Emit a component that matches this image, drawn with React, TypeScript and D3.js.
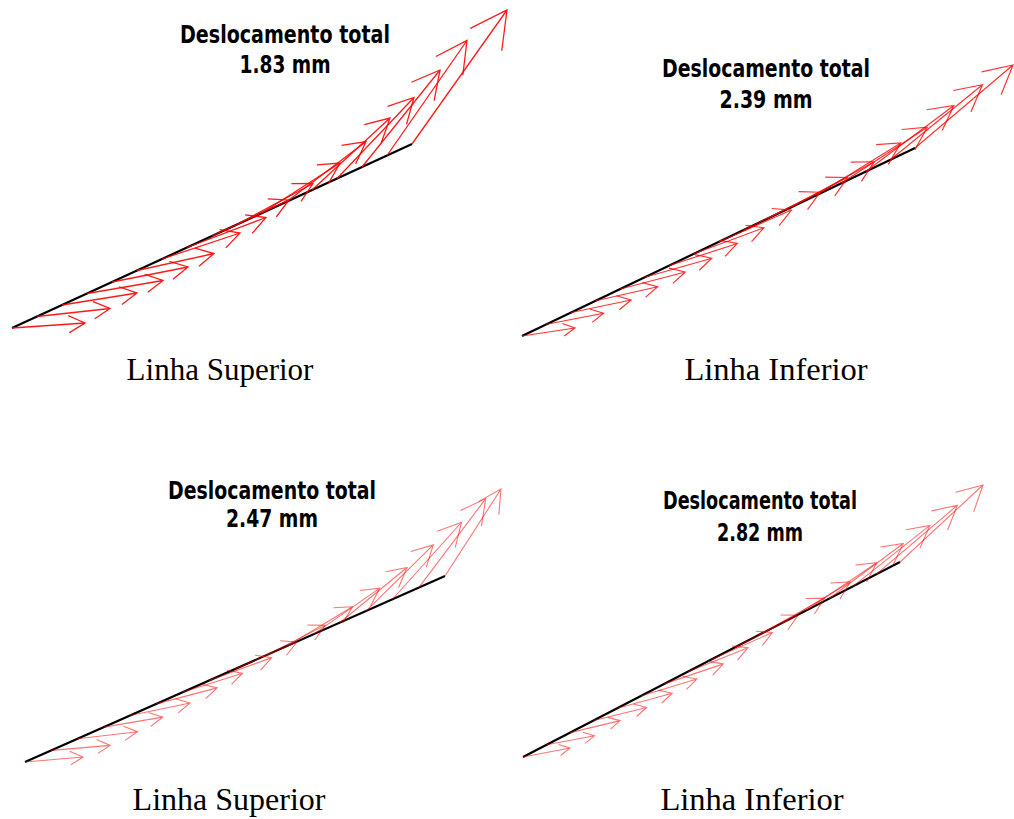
import React from "react";
import * as d3 from "d3";

// Panel titles / captions
const titles = ["Deslocamento total", "Deslocamento total", "Deslocamento total", "Deslocamento total"];
const totals = ["1.83 mm", "2.39 mm", "2.47 mm", "2.82 mm"];
const captions = ["Linha Superior", "Linha Inferior", "Linha Superior", "Linha Inferior"];

// Undeformed line (model units, y up): [x0, y0, x1, y1]
const line1 = [12, 12, 412, 196];
const line2 = [12, 4, 405, 192];
const line3 = [25, 8, 445, 194];
const line4 = [13, 13, 390, 208];

// Nodal displacement vectors (model units, y up), 17 nodes along each line
const disp1X = [73, 73, 75, 76, 76, 77, 78, 79, 77, 76, 78, 79, 78, 77, 78, 80, 95];
const disp1Y = [5, 8, 12, 13, 15, 17, 26, 30, 36, 41, 50, 60, 72, 81, 97, 115, 134];
const disp2X = [53, 57, 60, 62, 65, 67, 68, 70, 73, 77, 80, 82, 84, 86, 88, 92, 98];
const disp2Y = [8, 11, 12.5, 14, 17, 19, 22, 26, 32, 38, 41, 45, 52, 56, 66, 75, 83];
const disp3X = [58, 59, 60, 59, 60, 61, 60, 63, 62, 64, 65, 66, 67, 67, 69, 67, 56];
const disp3Y = [5, 5, 7, 10, 12.5, 16, 19, 23, 27, 32, 39, 46, 55, 66, 77, 89, 87];
const disp4X = [47, 48, 50, 53, 55, 56, 59, 60, 61, 63, 66, 68, 71, 74, 77, 81, 83];
const disp4Y = [9, 9, 12, 13, 15, 17, 20, 24, 27, 32, 37, 41, 48, 55, 61, 69, 77];

const W = 1014;
const H = 819;

type PanelDef = {
  ox: number; oy: number; line: number[]; dx: number[]; dy: number[];
  title: string; total: string; caption: string;
  tx: number; ty1: number; ty2: number; tw1: number; tw2: number;
  cx: number; cy: number; cs: number; op: number; sw: number;
};

const panels: PanelDef[] = [
  { ox: 0, oy: 0, line: line1, dx: disp1X, dy: disp1Y, title: titles[0], total: totals[0], caption: captions[0],
    tx: 285, ty1: 43, ty2: 73, tw1: 210, tw2: 91, cx: 220, cy: 380, cs: 31, op: 0.9, sw: 1.3 },
  { ox: 510, oy: 0, line: line2, dx: disp2X, dy: disp2Y, title: titles[1], total: totals[1], caption: captions[1],
    tx: 766, ty1: 77, ty2: 108, tw1: 208, tw2: 93, cx: 776, cy: 380, cs: 32.5, op: 0.8, sw: 1.2 },
  { ox: 0, oy: 430, line: line3, dx: disp3X, dy: disp3Y, title: titles[2], total: totals[2], caption: captions[2],
    tx: 272, ty1: 499, ty2: 527, tw1: 208, tw2: 92, cx: 229, cy: 810, cs: 32, op: 0.55, sw: 1.1 },
  { ox: 510, oy: 430, line: line4, dx: disp4X, dy: disp4Y, title: titles[3], total: totals[3], caption: captions[3],
    tx: 760, ty1: 509, ty2: 541, tw1: 194, tw2: 86, cx: 752, cy: 810, cs: 32.5, op: 0.55, sw: 1.1 },
];

function Panel({ p }: { p: PanelDef }) {
  const xs = d3.scaleLinear().domain([0, 500]).range([p.ox, p.ox + 500]);
  const ys = d3.scaleLinear().domain([0, 340]).range([p.oy + 340, p.oy]);
  const n = p.dx.length;
  const [x0, y0, x1, y1] = p.line;
  const ix = d3.interpolateNumber(x0, x1);
  const iy = d3.interpolateNumber(y0, y1);
  const nodes = d3.range(n).map((i) => {
    const t = i / (n - 1);
    return { x: ix(t), y: iy(t), dx: p.dx[i], dy: p.dy[i] };
  });
  const lineGen = d3.line<{ x: number; y: number }>().x((d) => xs(d.x)).y((d) => ys(d.y));
  const ang = (28 * Math.PI) / 180;
  const arrows = nodes.map((d) => {
    const ax = xs(d.x), ay = ys(d.y);
    const bx = xs(d.x + d.dx), by = ys(d.y + d.dy);
    const vx = bx - ax, vy = by - ay;
    const L = Math.hypot(vx, vy);
    const h = 0.25 * L;
    const ux = -vx / L, uy = -vy / L;
    const w1x = bx + h * (ux * Math.cos(ang) - uy * Math.sin(ang));
    const w1y = by + h * (ux * Math.sin(ang) + uy * Math.cos(ang));
    const w2x = bx + h * (ux * Math.cos(-ang) - uy * Math.sin(-ang));
    const w2y = by + h * (ux * Math.sin(-ang) + uy * Math.cos(-ang));
    return `M${ax},${ay}L${bx},${by}M${w1x},${w1y}L${bx},${by}L${w2x},${w2y}`;
  });
  return (
    <g>
      <path d={lineGen([nodes[0], nodes[n - 1]]) || ""} stroke="#000" strokeWidth={2.2} fill="none" />
      {arrows.map((a, i) => (
        <path key={i} d={a} stroke="#ff0000" strokeOpacity={p.op} strokeWidth={p.sw} fill="none" strokeLinejoin="miter" />
      ))}
      <text x={p.tx} y={p.ty1} textAnchor="middle" fontFamily="'DejaVu Sans Condensed', 'DejaVu Sans', sans-serif"
        fontWeight="bold" fontSize={24} textLength={p.tw1} lengthAdjust="spacingAndGlyphs" fill="#000">{p.title}</text>
      <text x={p.tx} y={p.ty2} textAnchor="middle" fontFamily="'DejaVu Sans Condensed', 'DejaVu Sans', sans-serif"
        fontWeight="bold" fontSize={24} textLength={p.tw2} lengthAdjust="spacingAndGlyphs" fill="#000">{p.total}</text>
      <text x={p.cx} y={p.cy} textAnchor="middle" fontFamily="'Liberation Serif', 'Times New Roman', serif"
        fontSize={p.cs} fill="#000">{p.caption}</text>
    </g>
  );
}

export default function App() {
  return (
    <svg width={W} height={H} style={{ position: "absolute", left: 0, top: 0, background: "#fff" }}>
      <rect x={0} y={0} width={W} height={H} fill="#fff" />
      {panels.map((p, i) => (
        <Panel key={i} p={p} />
      ))}
    </svg>
  );
}
